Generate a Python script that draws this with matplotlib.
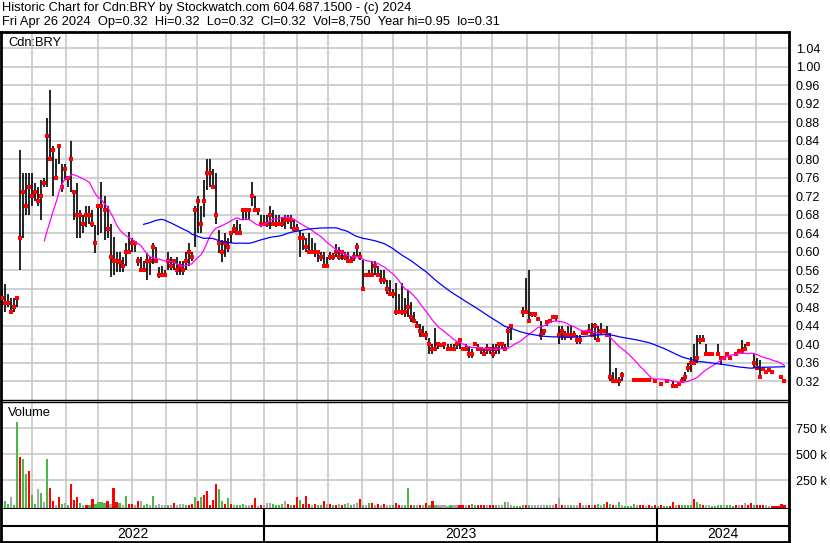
import matplotlib
matplotlib.use('Agg')
import matplotlib.pyplot as plt
import numpy as np
import pandas as pd

plt.rcParams['font.family'] = ['Liberation Sans', 'DejaVu Sans']

# Cdn:BRY, one entry every two trading days, May 2022 - Apr 26 2024
# None in hi/lo = day with no range (only the close is marked), None in cl = no trade
hi = [.52, .53, .51, .50, .50, .50, .82, .77, .77, .77,
      .77, .75, .74, .755, .76, .89, .95, .83, .80, .83,
      .79, .79, .76, .84, .73, .75, .69, .68, .70, .70,
      .69, .658, .70, .752, .72, .70, .66, .633, .60, .60,
      .59, .62, .643, .63, .62, .59, .59, .58, .597, .59,
      .62, .61, .568, .57, .56, .60, .59, .58, .59, .58,
      .58, .60, .62, .60, .70, .72, .70, .755, .80, .80,
      .78, .77, .647, .626, .64, .63, .64, .66, .67, .66,
      .69, .69, .69, .752, .72, .69, .68, .68, .68, .70,
      .69, .68, .68, .675, .68, .68, .68, .67, .66, .647,
      .64, .63, .64, .63, .62, .60, .60, .60, .59, .60,
      .597, .618, .61, .60, .60, .60, .59, .60, .62, .60,
      .582, None, .56, .58, .58, .57, .56, .56, .54, .54,
      .52, .532, .51, .532, .50, .517, .492, .47, .45, .445,
      .44, .43, .413, .40, .435, .40, None, .40, .40, .40,
      .40, .40, .41, None, .40, .395, .39, None, .40, .39,
      .39, .40, .39, .40, .40, .40, .40, .40, .438, .44,
      None, None, None, .48, .543, .56, .47, .47, .46, .45,
      .43, .45, None, None, .46, .44, .44, .43, .44, .44,
      .43, .42, .42, .43, None, .445, .446, .446, .44, .446,
      None, .44, .424, .34, .35, .33, .34, None, None, None,
      .325, .325, None, None, None, None, None, None, None, None,
      None, None, None, .32, .315, None, .33, .34, .36, .373,
      .40, .42, .42, .42, .40, None, None, None, .40, .37,
      None, None, None, None, None, .39, .41, .40, None, None,
      .38, .37, .366, None, None, None, None, None, None, None,
      None]
lo = [.48, .47, .48, .47, .47, .48, .56, .63, .68, .68,
      .70, .71, .70, .67, .74, .74, .80, .72, .755, .79,
      .73, .755, .74, .73, .67, .63, .63, .64, .655, .66,
      .655, .597, .636, .64, .625, .63, .546, .55, .557, .557,
      .557, .57, .597, .60, .60, .57, .557, .56, .54, .55,
      .575, .58, .543, .55, .545, .56, .56, .56, .55, .55,
      .55, .56, .57, .58, .61, .64, .64, .676, .733, .74,
      .74, .66, .597, .579, .59, .60, .62, .64, .64, .638,
      .669, .67, .67, .70, .69, .68, .655, .66, .655, .65,
      .66, .655, .66, .655, .65, .66, .65, .65, .648, .59,
      .605, .60, .60, .597, .59, .579, .58, .568, .568, .582,
      .582, .59, .582, .582, .582, .58, .579, .58, .59, .582,
      .518, None, .55, .546, .55, .546, .53, .53, .51, .509,
      .50, .463, .465, .463, .46, .46, .449, .449, .44, .417,
      .417, .41, .38, .38, .388, .39, None, .39, .39, .39,
      .39, .39, .39, None, .39, .37, .37, None, .39, .38,
      .38, .38, .38, .37, .38, .38, .39, .39, .395, .41,
      None, None, None, .46, .47, .452, .46, .46, .45, .41,
      .42, .44, None, None, .45, .40, .41, .41, .42, .41,
      .42, .40, .40, .42, None, .425, .417, .41, .41, .42,
      None, .42, .32, .32, .32, .31, .32, None, None, None,
      .32, .32, None, None, None, None, None, None, None, None,
      None, None, None, .307, .307, None, .32, .32, .34, .34,
      .355, .36, .40, .41, .38, None, None, None, .38, .355,
      None, None, None, None, None, .38, .38, .385, None, None,
      .35, .35, .33, None, None, None, None, None, None, None,
      None]
cl = [.50, .49, .49, .47, .48, .50, .63, .73, .70, .74,
      .72, .73, .71, .72, .75, .85, .80, .82, .76, .83,
      .74, .78, .76, .80, .73, .68, .68, .66, .68, .68,
      .66, .62, .70, .70, .69, .65, .59, .58, .58, .578,
      .57, .60, .60, .62, .62, .58, .56, .56, .58, .58,
      .61, .58, .55, .55, .55, .58, .57, .58, .56, .57,
      .56, .58, .60, .59, .69, .71, .66, .71, .77, .77,
      .74, .68, .62, .60, .62, .61, .64, .65, .64, .64,
      .69, .69, .69, .72, .69, .69, .66, .66, .66, .68,
      .66, .66, .66, .66, .67, .67, .67, .65, .65, .63,
      .63, .61, .60, .60, .60, .60, .59, .57, .57, .59,
      .59, .60, .59, .60, .59, .58, .58, .59, .61, .59,
      .52, .55, .55, .55, .57, .55, .54, .54, .52, .51,
      .51, .47, .47, .47, .47, .48, .46, .45, .44, .43,
      .42, .42, .40, .39, .39, .40, .398, .40, .39, .39,
      .39, .40, .41, .39, .39, .38, .38, .40, .39, .39,
      .38, .39, .39, .38, .39, .40, .40, .39, .43, .44,
      None, None, None, .47, .47, .45, .465, .465, .455, .42,
      .43, .449, .45, .46, .46, .42, .43, .42, .42, .42,
      .42, .41, .41, .425, .425, .43, .42, .44, .41, .43,
      .43, .42, .33, .32, .32, .32, .335, None, None, None,
      .323, .323, .323, .323, .323, .323, None, .32, None, .314,
      None, .32, None, .31, .31, .314, .32, .33, .35, .36,
      .36, .37, .41, .41, .38, .38, .38, None, .38, .37,
      .37, .38, .37, None, .38, .385, .385, .39, .40, None,
      .36, .35, .33, .346, .34, .345, .34, None, None, .33,
      .32]

# volume in thousands, colour: g = up, r = down, n = unchanged
vol = [16, 48, 20, 90, 15, 810, 477, 455, 314, 343,
       108, 20, 165, 125, 40, 455, 172, 50, 15, 88,
       20, 30, 15, 211, 60, 88, 30, 10, 12, 15,
       70, 20, 40, 45, 35, 55, 20, 172, 40, 30,
       10, 102, 20, 25, 10, 50, 50, 10, 20, 10,
       102, 10, 20, 8, 8, 10, 8, 35, 10, 25,
       25, 8, 10, 20, 88, 50, 88, 108, 150, 15,
       60, 214, 165, 50, 20, 80, 20, 8, 10, 15,
       20, 8, 10, 10, 80, 5, 10, 8, 30, 30,
       20, 15, 15, 25, 50, 20, 10, 10, 90, 60,
       20, 100, 20, 15, 20, 10, 15, 50, 20, 20,
       15, 10, 20, 10, 25, 30, 10, 25, 30, 70,
       15, 10, 30, 30, 8, 20, 8, 25, 10, 8,
       10, 30, 12, 10, 15, 173, 15, 10, 8, 10,
       8, 30, 10, 50, 15, 8, 8, 10, 5, 8,
       10, 8, 15, 8, 10, 15, 25, 12, 8, 8,
       10, 8, 10, 15, 15, 12, 10, 40, 40, 10,
       0, 0, 0, 15, 15, 15, 10, 8, 8, 10,
       8, 10, 8, 10, 20, 76, 15, 8, 8, 10,
       8, 10, 36, 10, 8, 15, 8, 12, 20, 10,
       25, 40, 20, 15, 10, 40, 8, 0, 0, 0,
       20, 8, 8, 8, 5, 8, 0, 10, 0, 8,
       0, 5, 0, 40, 15, 8, 8, 8, 8, 10,
       70, 40, 25, 15, 15, 8, 5, 0, 8, 8,
       15, 8, 8, 0, 8, 8, 10, 36, 8, 30,
       15, 10, 15, 8, 8, 5, 0, 0, 0, 25,
       9]
vol_col = list('gggnggrggr'
               'ggngngrrnr'
               'gngrrrgnrg'
               'rggggrnrrg'
               'ngrrnrnggn'
               'gnnnngnrnn'
               'ngrrgrgrrr'
               'rrggrgrngg'
               'gnnrrnrnnn'
               'ggggnrgrrg'
               'rrrnrggrnr'
               'grnrgngnnr'
               'gngrnrnrnn'
               'grrnggrgnr'
               'nrgrgnnnng'
               'nnrrnrggrr'
               'rnrrgnngnn'
               'ggggrgnnnn'
               'ngnnrnrnng'
               'nnrnnrnrgn'
               'grgrngnggg'
               'gnrrnrgrgr'
               'ggrrnrgggg'
               'rggrnnggg'
               'gngggrnrnrr'
               'grrrnnrrrr'
               'r')

days = pd.bdate_range('2022-05-04', '2024-04-26')
month_starts = pd.date_range('2022-06-01', '2024-04-01', freq='MS')
years = ['2022', '2023', '2024']

hi = np.array(hi, dtype=float)
lo = np.array(lo, dtype=float)
cl = np.array(cl, dtype=float)
vol = np.array(vol, dtype=float) * 1000
x = np.arange(len(cl))

scale = (len(cl) - 1) / (len(days) - 1)
month_x = [days.searchsorted(m) * scale for m in month_starts]
year_x = [days.searchsorted(pd.Timestamp(y + '-01-01')) * scale for y in years[1:]]

ma_short = pd.Series(cl).ffill().rolling(15).mean()
ma_long = pd.Series(cl).ffill().rolling(48).mean()

W, H = 830, 543
def box(x0, y0, x1, y1):
    return [x0 / W, 1 - y1 / H, (x1 - x0) / W, (y1 - y0) / H]

fig = plt.figure(figsize=(W / 100, H / 100), dpi=100)
grid_c = '#c4c4c4'
xlim = (-0.4, len(cl) + 0.5)

# header
fig.text(2 / W, 1 - 8 / H, 'Historic Chart for Cdn:BRY by Stockwatch.com 604.687.1500 - (c) 2024',
         fontsize=9.3, va='center', ha='left')
fig.text(2 / W, 1 - 22 / H,
         'Fri Apr 26 2024  Op=0.32  Hi=0.32  Lo=0.32  Cl=0.32  Vol=8,750  Year hi=0.95  lo=0.31',
         fontsize=9.3, va='center', ha='left')

# price panel
ax = fig.add_axes(box(1, 32, 789, 400))
ax.set_xlim(*xlim)
ax.set_ylim(0.28, 1.0756)
yt = np.arange(0.32, 1.0401, 0.04)
ax.set_yticks(yt)
ax.set_yticklabels(['%.2f' % v for v in yt])
ax.yaxis.tick_right()
ax.tick_params(axis='y', length=0, pad=5, labelsize=9)
ax.set_xticks([])
for v in yt:
    ax.axhline(v, color=grid_c, lw=1.1, zorder=1)
for m in month_x:
    ax.axvline(m, color=grid_c, lw=1.1, zorder=1)

has_range = ~np.isnan(hi)
ax.vlines(x[has_range], lo[has_range], hi[has_range], color='black', lw=1.2, zorder=2)
ax.plot(x, cl, ls='none', marker='s', ms=2.2, mew=0, color='#ff0000', zorder=3)
ax.plot(x, ma_short, color='#ff00ff', lw=0.9, zorder=4)
ax.plot(x, ma_long, color='#0000ff', lw=0.9, zorder=4)
ax.text(7 / 788, 1 - 11 / 368, 'Cdn:BRY', fontsize=9.3, va='center', ha='left',
        transform=ax.transAxes)

for s in ['left', 'right', 'top']:
    ax.spines[s].set_linewidth(2)
ax.spines['bottom'].set_linewidth(1)

# volume panel
axv = fig.add_axes(box(1, 402, 789, 509))
axv.set_xlim(*xlim)
vbase = -26000
axv.set_ylim(vbase, 1003000)
colmap = {'g': '#4cb848', 'r': '#ff0000', 'n': '#a8a8a8'}
axv.bar(x, vol - vbase, bottom=vbase, width=0.7, color=[colmap[c] for c in vol_col], zorder=2)
vt = [250000, 500000, 750000]
axv.set_yticks(vt)
axv.set_yticklabels(['250 k', '500 k', '750 k'])
axv.yaxis.tick_right()
axv.tick_params(axis='y', length=0, pad=5, labelsize=9)
axv.set_xticks([])
for v in vt:
    axv.axhline(v, color=grid_c, lw=1.1, zorder=1)
for m in month_x:
    axv.axvline(m, color=grid_c, lw=1.1, zorder=1)
axv.text(7 / 788, 1 - 11 / 107, 'Volume', fontsize=9.3, va='center', ha='left', transform=axv.transAxes)
for s in ['left', 'right']:
    axv.spines[s].set_linewidth(2)
axv.spines['top'].set_linewidth(1)
axv.spines['bottom'].set_linewidth(1.5)

# date strip
axd = fig.add_axes(box(1, 509, 789, 542))
axd.set_xlim(*xlim)
axd.set_ylim(0, 1)
axd.set_xticks([])
axd.set_yticks([])
axd.axhline(0.5, color='black', lw=1.5)
for yx in year_x:
    axd.axvline(yx, color='black', lw=1.5)
edges = [xlim[0]] + year_x + [xlim[1]]
for i, y in enumerate(years):
    axd.text((edges[i] + edges[i + 1]) / 2, 0.24, y, fontsize=10, ha='center', va='center')
for s in ['left', 'right']:
    axd.spines[s].set_linewidth(2)
axd.spines['bottom'].set_linewidth(2)
axd.spines['top'].set_visible(False)

fig.savefig('out.png', dpi=100)
